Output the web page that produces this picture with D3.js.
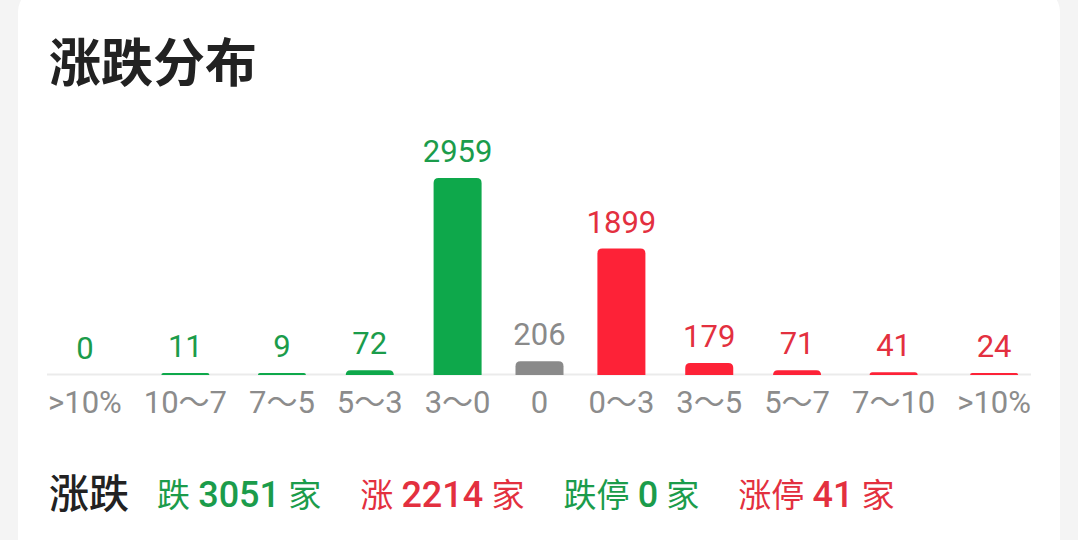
<!DOCTYPE html>
<html>
<head>
<meta charset="utf-8">
<script src="https://cdn.jsdelivr.net/npm/d3@7"></script>
<style>
  html, body { margin: 0; padding: 0; background: #f4f4f4; }
  svg { display: block; }
</style>
</head>
<body>
<div id="chart"></div>
<script>
var chart_width = 1078;
var chart_height = 540;

// bucket labels under each bar
var categories = ['>10%', '10～7', '7～5', '5～3', '3～0', '0', '0～3', '3～5', '5～7', '7～10', '>10%'];
// number of stocks in each bucket
var counts = [0, 11, 9, 72, 2959, 206, 1899, 179, 71, 41, 24];
// which side each bucket belongs to
var sides = ['down', 'down', 'down', 'down', 'down', 'flat', 'up', 'up', 'up', 'up', 'up'];

// summary row
var summary_labels = ['跌', '涨', '跌停', '涨停'];
var summary_values = [3051, 2214, 0, 41];
var summary_sides = ['down', 'up', 'down', 'up'];

var bar_colors = { down: '#0ea84b', up: '#fd2237', flat: '#8a8a8a' };
var text_colors = { down: '#1b9c4b', up: '#e3303f', flat: '#8a8a8a' };

var font = "Roboto, 'Noto Sans CJK SC', sans-serif";
var base_y = 374;
var axis_left = 48, axis_right = 1031;
var bar_width = 48;

var svg = d3.select('#chart')
  .append('svg')
  .attr('width', chart_width)
  .attr('height', chart_height);

// card
svg.append('rect')
  .attr('x', 18)
  .attr('y', -12)
  .attr('width', 1042)
  .attr('height', 600)
  .attr('rx', 24)
  .attr('fill', '#ffffff');

// title
svg.append('text')
  .attr('x', 49)
  .attr('y', 82)
  .attr('font-family', font)
  .attr('font-size', 52)
  .attr('font-weight', 700)
  .attr('fill', '#222222')
  .text('涨跌分布');

// axis labels, measured first so they can be spread like the app does
var labels = svg.selectAll('text.cat')
  .data(categories)
  .enter()
  .append('text')
  .attr('class', 'cat')
  .attr('y', 413)
  .attr('text-anchor', 'middle')
  .attr('font-family', font)
  .attr('font-size', 31)
  .attr('fill', '#8c8c8c')
  .text(function(d) { return d; });

var item_widths = [];
labels.each(function() {
  item_widths.push(Math.max(this.getComputedTextLength(), 54));
});
var gap = (axis_right - axis_left - d3.sum(item_widths)) / (categories.length - 1);
var centers = [];
var cursor = axis_left;
item_widths.forEach(function(w) {
  centers.push(cursor + w / 2);
  cursor += w + gap;
});

var x_scale = d3.scaleOrdinal()
  .domain(d3.range(categories.length))
  .range(centers);

var y_scale = d3.scaleLinear()
  .domain([0, d3.max(counts)])
  .range([base_y, base_y - 197]);

labels.attr('x', function(d, i) { return x_scale(i); });

// baseline
svg.append('line')
  .attr('x1', axis_left - 1)
  .attr('x2', axis_right)
  .attr('y1', base_y + 0.5)
  .attr('y2', base_y + 0.5)
  .attr('stroke', '#ebebeb')
  .attr('stroke-width', 2);

function bar_height(v) {
  if (v === 0) return 0;
  return Math.max(2, base_y - y_scale(v));
}

// bars with rounded tops
svg.selectAll('path.bar')
  .data(counts)
  .enter()
  .append('path')
  .attr('class', 'bar')
  .attr('d', function(d, i) {
    var h = bar_height(d);
    if (h === 0) return '';
    var x0 = x_scale(i) - bar_width / 2;
    var x1 = x0 + bar_width;
    var y0 = base_y + 1 - h;
    var y1 = base_y + 1;
    var r = Math.min(5, h);
    return 'M' + x0 + ',' + y1 +
      'L' + x0 + ',' + (y0 + r) +
      'Q' + x0 + ',' + y0 + ' ' + (x0 + r) + ',' + y0 +
      'L' + (x1 - r) + ',' + y0 +
      'Q' + x1 + ',' + y0 + ' ' + x1 + ',' + (y0 + r) +
      'L' + x1 + ',' + y1 + 'Z';
  })
  .attr('fill', function(d, i) { return bar_colors[sides[i]]; });

// value labels
svg.selectAll('text.val')
  .data(counts)
  .enter()
  .append('text')
  .attr('class', 'val')
  .attr('x', function(d, i) { return x_scale(i); })
  .attr('y', function(d) { return base_y - bar_height(d) - 15; })
  .attr('text-anchor', 'middle')
  .attr('font-family', font)
  .attr('font-size', 31)
  .attr('fill', function(d, i) { return text_colors[sides[i]]; })
  .text(function(d) { return d; });

// summary row
svg.append('text')
  .attr('x', 49)
  .attr('y', 508)
  .attr('font-family', font)
  .attr('font-size', 40)
  .attr('font-weight', 500)
  .attr('fill', '#222222')
  .text('涨跌');

var sx = 157;
summary_labels.forEach(function(lbl, i) {
  var t = svg.append('text')
    .attr('x', sx)
    .attr('y', 507)
    .attr('font-family', font)
    .attr('font-size', 33)
    .attr('fill', text_colors[summary_sides[i]]);
  t.append('tspan').text(lbl + ' ');
  t.append('tspan').attr('font-weight', 500).attr('font-size', 36).text(summary_values[i]);
  t.append('tspan').text(' 家');
  sx += t.node().getComputedTextLength() + 39;
});
</script>
</body>
</html>
